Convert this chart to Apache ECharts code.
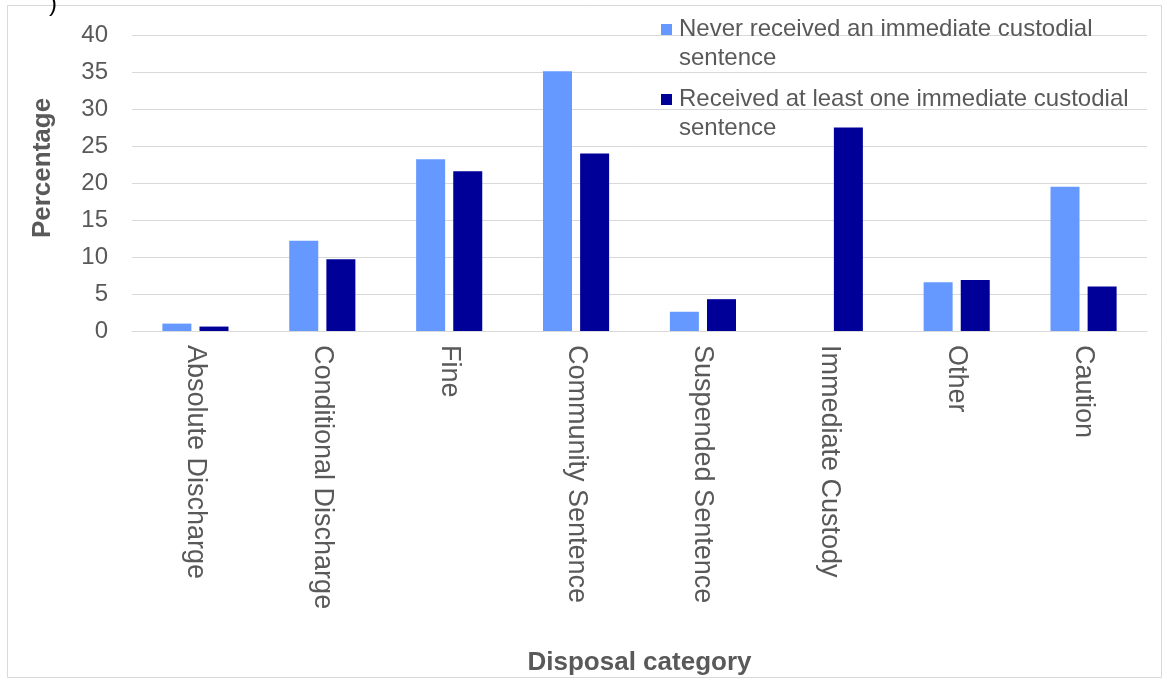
<!DOCTYPE html>
<html>
<head>
<meta charset="utf-8">
<script src="https://cdn.jsdelivr.net/npm/echarts@6/dist/echarts.min.js"></script>
<style>
html,body{margin:0;padding:0;background:#fff;}
#chart{width:1167px;height:682px;}
</style>
</head>
<body>
<div id="chart"></div>
<script>
const categories = ["Absolute Discharge","Conditional Discharge","Fine","Community Sentence","Suspended Sentence","Immediate Custody","Other","Caution"];
const seriesNames = ["Never received an immediate custodial\nsentence","Received at least one immediate custodial\nsentence"];
const neverCustody = [1.0, 12.2, 23.2, 35.1, 2.6, 0, 6.6, 19.5];
const receivedCustody = [0.6, 9.7, 21.6, 24.0, 4.3, 27.5, 6.9, 6.0];
const yTicks = {min: 0, max: 40, interval: 5};
const axisTitles = {x: "Disposal category", y: "Percentage"};

const textColor = '#595959';
const font = '"Liberation Sans", Arial, sans-serif';
const chart = echarts.init(document.getElementById('chart'), null, {renderer: 'canvas'});
const legendIcon = 'path://M0,0H11V11H0Z M0,40H0.01V40.01H0Z';

chart.setOption({
  backgroundColor: '#ffffff',
  animation: false,
  textStyle: {fontFamily: font},
  graphic: [
    {type: 'rect', shape: {x: 7.5, y: 5.5, width: 1154, height: 672}, style: {fill: 'none', stroke: '#d9d9d9', lineWidth: 1}, silent: true},
    {type: 'text', x: 49, y: -8, style: {text: ')', fontSize: 24, fill: '#000', fontFamily: font}, silent: true}
  ],
  legend: {
    orient: 'vertical',
    left: 656,
    top: 10,
    itemWidth: 11,
    itemHeight: 40,
    itemGap: 12,
    icon: legendIcon,
    textStyle: {fontSize: 24, lineHeight: 29, color: textColor, fontFamily: font, padding: [0, 0, 0, 2]},
    data: seriesNames
  },
  grid: {left: 132, right: 20, top: 35, bottom: 351, containLabel: false},
  xAxis: {
    type: 'category',
    data: categories,
    name: axisTitles.x,
    nameLocation: 'middle',
    nameGap: 319,
    nameTextStyle: {fontSize: 26, fontWeight: 'bold', color: textColor, fontFamily: font},
    axisLine: {lineStyle: {color: '#d9d9d9', width: 1}},
    axisTick: {show: false},
    axisLabel: {rotate: -90, fontSize: 27, color: textColor, margin: 14, interval: 0, fontFamily: font}
  },
  yAxis: {
    type: 'value',
    min: yTicks.min,
    max: yTicks.max,
    interval: yTicks.interval,
    name: axisTitles.y,
    nameLocation: 'middle',
    nameGap: 76,
    nameTextStyle: {fontSize: 26, fontWeight: 'bold', color: textColor, fontFamily: font, padding: [0, 0, 0, 30]},
    axisLine: {show: false},
    axisTick: {show: false},
    axisLabel: {fontSize: 24, color: textColor, margin: 24, fontFamily: font},
    splitLine: {lineStyle: {color: '#d9d9d9', width: 1}}
  },
  series: [
    {name: seriesNames[0], type: 'bar', data: neverCustody, barWidth: 29, barGap: '28%', itemStyle: {color: '#6699FF'}},
    {name: seriesNames[1], type: 'bar', data: receivedCustody, barWidth: 29, barGap: '28%', itemStyle: {color: '#000099'}}
  ]
});
</script>
</body>
</html>
